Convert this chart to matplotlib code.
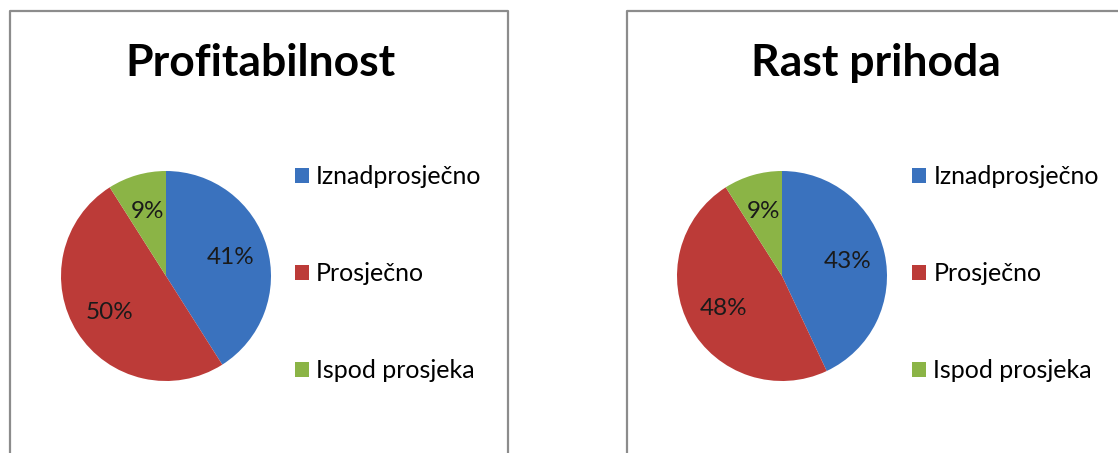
import matplotlib
matplotlib.use("Agg")
import matplotlib.pyplot as plt
from matplotlib.lines import Line2D

plt.rcParams['font.family'] = ['Lato', 'DejaVu Sans']

categories = ["Iznadprosječno", "Prosječno", "Ispod prosjeka"]
titles = ["Profitabilnost", "Rast prihoda"]
profitabilnost = [41, 50, 9]
rast_prihoda = [43, 48, 9]
colors = ["#3A72BE", "#BC3B38", "#8BB446"]

W, H = 1118, 453
fig = plt.figure(figsize=(W / 100, H / 100), dpi=100)
fig.patch.set_facecolor("white")

def fx(px):
    return px / W

def fy(py):
    return 1 - py / H

# panel borders
border = dict(color="#8C8C8C", lw=1.6, transform=fig.transFigure)
fig.add_artist(Line2D([fx(10), fx(10), fx(508), fx(508)], [fy(460), fy(11), fy(11), fy(460)], **border))
fig.add_artist(Line2D([fx(627), fx(627), fx(1125)], [fy(460), fy(11), fy(11)], **border))

panels = [
    (titles[0], profitabilnost, 166, 260, 296),
    (titles[1], rast_prihoda, 782, 876, 913),
]
R = 105
CY = 276
for title, vals, cx, tx, lx in panels:
    ax = fig.add_axes([fx(cx - R), fy(CY + R), 2 * R / W, 2 * R / H])
    wedges, texts, autotexts = ax.pie(
        vals, colors=colors, startangle=90, counterclock=False,
        autopct=lambda p: f"{p:.0f}%", pctdistance=0.64,
        textprops=dict(fontsize=17.5, color="#1a1a1a"),
        wedgeprops=dict(linewidth=0))
    ax.set_xlim(-1, 1)
    ax.set_ylim(-1, 1)
    ax.set_aspect("equal")
    ax.axis("off")
    fig.text(fx(tx), fy(63), title, ha="center", va="center",
             fontsize=32, fontweight="bold", color="black")
    fig.legend(wedges, categories, loc="upper left",
               bbox_to_anchor=(fx(lx - 1), fy(165)),
               frameon=False, fontsize=18, handlelength=0.55, handleheight=0.55,
               handletextpad=0.3, labelspacing=2.96, borderaxespad=0,
               borderpad=0)

fig.savefig("out.png", dpi=100, facecolor="white")
